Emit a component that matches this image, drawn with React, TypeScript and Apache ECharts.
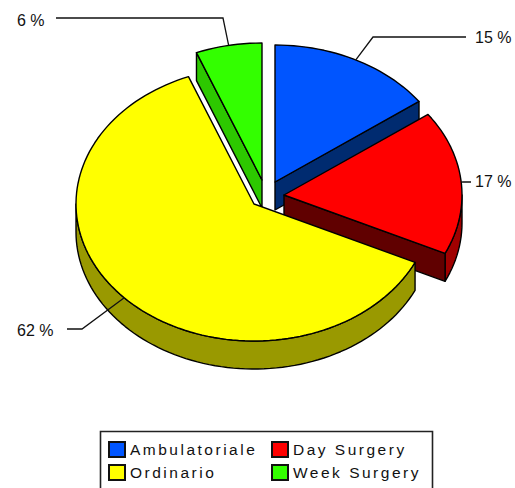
import React, { useEffect, useRef } from "react";
import * as echarts from "echarts";

const categories = ["Ambulatoriale", "Day Surgery", "Ordinario", "Week Surgery"];
const shares = [15, 17, 62, 6];
const faceColors = ["#0055ff", "#ff0000", "#ffff00", "#33ff00"];
const edgeColors = ["#002b70", "#600000", "#999900", "#2dc800"];
const rimColors = ["#002b70", "#a00000", "#999900", "#2dc800"];
const legendLeft = ["Ambulatoriale", "Ordinario"];
const legendRight = ["Day Surgery", "Week Surgery"];

// Layout (pixels)
const RX = 178;
const RY = 137;
const DEPTH = 28;
const centres = [[275, 182], [284, 195], [254, 204], [262, 180]];
const labelLayout = [
  { elbow: [373, 37], end: [466, 37], text: [475, 37] },
  { elbow: [463, 182], end: [471, 182], text: [475, 181] },
  { elbow: [82, 329], end: [67, 329], text: [17, 330] },
  { elbow: [223, 18], end: [56, 18], text: [17, 20] },
];

const total = shares.reduce((a, b) => a + b, 0);
const startAngles: number[] = [];
shares.reduce((acc, v, i) => {
  startAngles[i] = acc;
  return acc + (v / total) * 360;
}, 0);

const pt = (c: number[], deg: number, dy = 0) => {
  const r = (deg * Math.PI) / 180;
  return [c[0] + RX * Math.sin(r), c[1] - RY * Math.cos(r) + dy];
};
const arc = (c: number[], a: number, b: number, dy = 0) => {
  const out: number[][] = [];
  const n = Math.max(2, Math.ceil(Math.abs(b - a) / 2));
  for (let i = 0; i <= n; i++) out.push(pt(c, a + ((b - a) * i) / n, dy));
  return out;
};
const poly = (points: number[][], fill: string) => ({
  type: "polygon",
  shape: { points },
  style: { fill, stroke: "#000", lineWidth: 1.4, lineJoin: "round" },
  silent: true,
});

const makeRenderItem = (i: number) => (_p: any, api: any) => {
  const sweep = (api.value(0) / total) * 360;
  const a1 = startAngles[i];
  const a2 = a1 + sweep;
  const c = centres[i];
  const children: any[] = [];
  const shift = (p: number[]) => [p[0], p[1] + DEPTH];

  // outer rim: the part of the arc that faces the viewer
  const from = Math.max(a1, 90);
  const to = Math.min(a2, 270);
  if (to > from) {
    children.push(poly([...arc(c, from, to), ...arc(c, from, to, DEPTH).reverse()], rimColors[i]));
  }
  // radial walls that face the viewer
  if (Math.sin((a2 * Math.PI) / 180) > 0.01) {
    const q = pt(c, a2);
    children.push(poly([c, q, shift(q), shift(c)], edgeColors[i]));
  }
  if (Math.sin((a1 * Math.PI) / 180) < -0.01) {
    const q = pt(c, a1);
    children.push(poly([c, q, shift(q), shift(c)], edgeColors[i]));
  }
  // top face
  children.push(poly([c, ...arc(c, a1, a2)], faceColors[i]));

  // leader and label
  const lay = labelLayout[i];
  children.push({
    type: "polyline",
    shape: { points: [pt(c, (a1 + a2) / 2), lay.elbow, lay.end] },
    style: { stroke: "#111", lineWidth: 1.3, fill: "none" },
    silent: true,
  });
  children.push({
    type: "text",
    style: {
      text: `${api.value(0)} %`,
      x: lay.text[0],
      y: lay.text[1],
      fill: "#111",
      fontSize: 16,
      fontFamily: "'Liberation Sans', Arial, sans-serif",
      align: "left",
      verticalAlign: "middle",
    },
    silent: true,
  });
  return { type: "group", children };
};

const legendBase = {
  orient: "vertical",
  top: 441,
  itemWidth: 16,
  itemHeight: 15,
  itemGap: 6,
  icon: "rect",
  selectedMode: false,
  padding: 0,
  itemStyle: { borderColor: "#111", borderWidth: 2 },
  textStyle: {
    color: "#111",
    fontSize: 15.5,
    lineHeight: 15,
    fontFamily: "'Liberation Sans', Arial, sans-serif",
    padding: 0,
  },
};

export default function App() {
  const ref = useRef<HTMLDivElement>(null);
  useEffect(() => {
    const chart = echarts.init(ref.current!, null, { renderer: "svg" });
    chart.setOption({
      animation: false,
      backgroundColor: "#fff",
      legend: [
        { ...legendBase, left: 108, data: legendLeft },
        { ...legendBase, left: 271, data: legendRight },
      ],
      graphic: [
        {
          type: "rect",
          z: -1,
          shape: { x: 100.5, y: 431.5, width: 332, height: 70 },
          style: { fill: "#fff", stroke: "#222", lineWidth: 1.6 },
          silent: true,
        },
      ],
      series: categories.map((name, i) => ({
        type: "custom",
        name,
        coordinateSystem: "none",
        itemStyle: { color: faceColors[i] },
        z: 2 + (i === 2 ? 3 : i === 3 ? 0 : i),
        renderItem: makeRenderItem(i),
        data: [[shares[i]]],
      })),
    });
    return () => chart.dispose();
  }, []);
  return (
    <>
      <style>{`body{margin:0} #chart text[style*="15.5px"]{letter-spacing:2.5px}`}</style>
      <div id="chart" ref={ref} style={{ position: "absolute", left: 0, top: 0, width: 515, height: 488 }} />
    </>
  );
}
